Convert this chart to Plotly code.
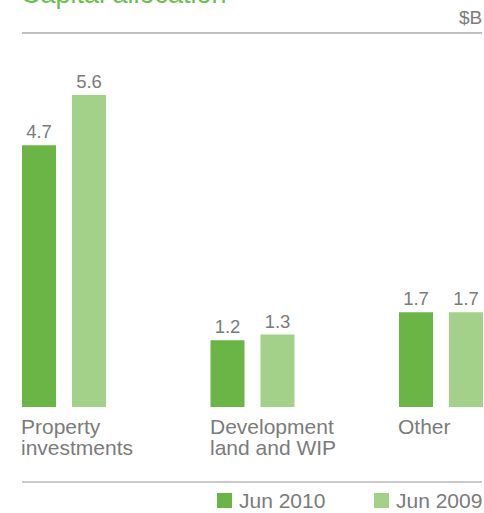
import plotly.graph_objects as go

# Capital allocation, $B
categories = [["Property", "investments"], ["Development", "land and WIP"], ["Other"]]
jun_2010 = [4.7, 1.2, 1.7]
jun_2009 = [5.6, 1.3, 1.7]
series_names = ["Jun 2010", "Jun 2009"]

DARK = "#6ab545"
LIGHT = "#a3d18a"
GREY = "#7b7b7b"
FONT = "Liberation Sans, Arial, Helvetica, sans-serif"

W, H = 484, 513
TOP, BOTTOM = 33, 407          # plot area in pixels
PX_PER_CAT = 188.5             # pixels between group centres
FIRST_CENTRE = 64              # pixel x of first group centre
BAR_W = 34 / PX_PER_CAT
DARK_OFF = -42 / PX_PER_CAT
LIGHT_OFF = 8 / PX_PER_CAT

def px_x(px):
    return px / W

def px_y(py):
    return (BOTTOM - py) / (BOTTOM - TOP)

xs = list(range(len(categories)))

fig = go.Figure()
for name, vals, color, off in [
    (series_names[0], jun_2010, DARK, DARK_OFF),
    (series_names[1], jun_2009, LIGHT, LIGHT_OFF),
]:
    fig.add_trace(go.Bar(
        x=xs, y=vals, name=name,
        width=[BAR_W] * len(xs), offset=[off] * len(xs),
        marker=dict(color=color, line=dict(width=0)),
        text=[f"{v:.1f}" for v in vals],
        textposition="outside", constraintext="none",
        textfont=dict(family=FONT, size=18.5, color=GREY),
        cliponaxis=False, showlegend=False,
    ))

annotations = []
# category labels, left-aligned with the first bar of each group
for i, lines in enumerate(categories):
    for j, line in enumerate(lines):
        annotations.append(dict(
            x=i + DARK_OFF, y=px_y(426 + 21 * j), xref="x", yref="paper",
            text=line, showarrow=False, xanchor="left", yanchor="middle",
            xshift=-3, font=dict(family=FONT, size=21, color=GREY),
        ))

# title and unit
annotations.append(dict(
    x=px_x(19), y=px_y(-6), xref="paper", yref="paper", text="Capital allocation",
    showarrow=False, xanchor="left", yanchor="middle",
    font=dict(family=FONT, size=27, color="#6cbf4a"),
))
annotations.append(dict(
    x=px_x(484), y=px_y(17.5), xref="paper", yref="paper", text="$B",
    showarrow=False, xanchor="right", yanchor="middle",
    font=dict(family=FONT, size=19, color=GREY),
))

# rules above and below the chart
shapes = [
    dict(type="line", xref="paper", yref="paper", x0=px_x(22), x1=px_x(482),
         y0=px_y(33), y1=px_y(33), line=dict(color="#a8a8a8", width=1.5)),
    dict(type="line", xref="paper", yref="paper", x0=px_x(22), x1=px_x(482),
         y0=px_y(482), y1=px_y(482), line=dict(color="#b8b8b8", width=1.5)),
]
# legend
for name, color, sq_x in [(series_names[0], DARK, 217), (series_names[1], LIGHT, 374)]:
    shapes.append(dict(type="rect", xref="paper", yref="paper",
                       x0=px_x(sq_x), x1=px_x(sq_x + 15), y0=px_y(508), y1=px_y(493),
                       fillcolor=color, line=dict(width=0)))
    annotations.append(dict(
        x=px_x(sq_x + 20), y=px_y(500.5), xref="paper", yref="paper", text=name,
        showarrow=False, xanchor="left", yanchor="middle",
        font=dict(family=FONT, size=21, color=GREY),
    ))

fig.update_layout(
    width=W, height=H,
    margin=dict(l=0, r=0, t=TOP, b=H - BOTTOM, pad=0),
    paper_bgcolor="white", plot_bgcolor="white",
    xaxis=dict(range=[-FIRST_CENTRE / PX_PER_CAT, (W - FIRST_CENTRE) / PX_PER_CAT],
               visible=False, fixedrange=True),
    yaxis=dict(range=[0, (BOTTOM - TOP) / 55.7], visible=False, fixedrange=True),
    annotations=annotations, shapes=shapes,
    font=dict(family=FONT, color=GREY),
    showlegend=False,
)

fig.write_html("out.html", config={"displayModeBar": False})
